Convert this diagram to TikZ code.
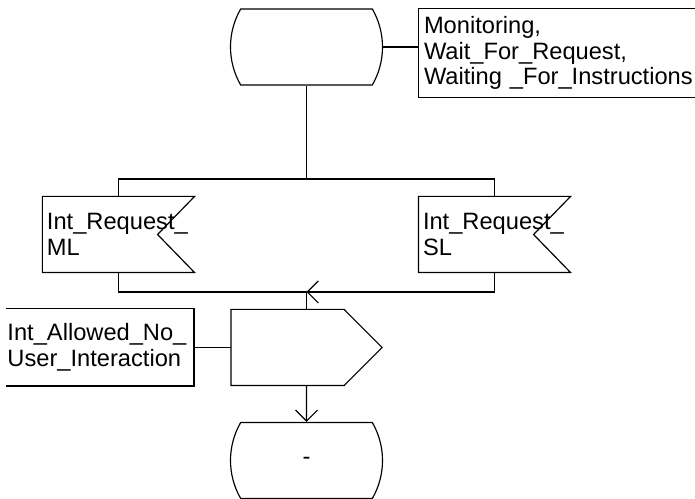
\documentclass[tikz,border=0pt]{standalone}
\usepackage{fontspec}
\setmainfont{Liberation Sans}
\usepackage{tikz}
\usetikzlibrary{shapes.misc, arrows.meta}
\usetikzlibrary{calc}
\usetikzlibrary{positioning}

\begin{document}
\begin{tikzpicture}[
        >={Straight Barb[length=0.165cm, width=0.33cm]},
        line width=0.5pt,
        nodes={inner sep=0pt, font={\fontsize{10.1}{11}\selectfont}},
        state_style/.style={rounded rectangle, rounded rectangle arc length=60, draw,
          minimum width=2.265cm, minimum height=1.14cm},
        input_style/.style={rectangle, minimum width=2.265cm, minimum height=1.125cm,
          text width=2.145cm, align=left},
        task_style/.style={rectangle, minimum width=2.25cm, minimum height=1.125cm},
        note_style/.style={rectangle, minimum width=2.805cm, minimum height=1.14cm,
          text width=2.775cm, align=left},
      node distance=3cm]

      \useasboundingbox (-4.5975,0.705) rectangle (5.8275,-6.78);

      \node[state_style] (st_top) at (0,0) {};
      \node[note_style, right of=st_top, node distance=3.7575cm, yshift=-0.09cm,
        minimum width=4.14cm, minimum height=1.32cm, text width=3.99cm] (states)
        {Monitoring,\\ Wait\_For\_Request,\\ Waiting~\_For\_Instructions};

      \coordinate[below of=st_top, node distance=1.98cm] (split);
      \node[input_style, below of=st_top, node distance=2.8125cm, xshift=-2.82cm] (req_ml) {Int\_Request\_\\ ML};
      \node[input_style, below of=st_top, node distance=2.8125cm, xshift=2.82cm] (req_sl) {Int\_Request\_\\ SL};
      \coordinate[below of=st_top, node distance=3.675cm] (join);

      \node[task_style, below of=st_top, node distance=4.5075cm] (allowed) {};
      \node[note_style, left of=allowed, node distance=3.0975cm] (allowed_note) {Int\_Allowed\_No\_\\ User\_Interaction};
      \node[state_style, below of=allowed, node distance=1.695cm] (st_bot) {-};

      % symbol outlines
      \foreach \n in {req_ml, req_sl}
        \draw (\n.north west) -- (\n.north east) -- ([xshift=-0.555cm]\n.east)
          -- (\n.south east) -- (\n.south west) -- cycle;
      \draw (allowed.north west) -- ([xshift=-0.57cm]allowed.north east) -- (allowed.east)
        -- ([xshift=-0.57cm]allowed.south east) -- (allowed.south west) -- cycle;
      \draw (states.north east) -- (states.north west) -- (states.south west) -- (states.south east);
      \draw (allowed_note.north west) -- (allowed_note.north east) -- (allowed_note.south east) -- (allowed_note.south west);

      \draw (st_top.east) -- (st_top.east -| states.west);
      \draw (st_top) -- (split);
      \draw (req_ml.north) -- (req_ml.north |- split) -- (req_sl.north |- split) -- (req_sl.north);
      \draw (req_ml.south) |- (join);
      \draw[->] (req_sl.south) |- (join);
      \draw (join) -- (allowed);
      \draw (allowed_note.east) -- (allowed.west);
      \draw[->] (allowed) -- (st_bot);
    \end{tikzpicture}
\end{document}
